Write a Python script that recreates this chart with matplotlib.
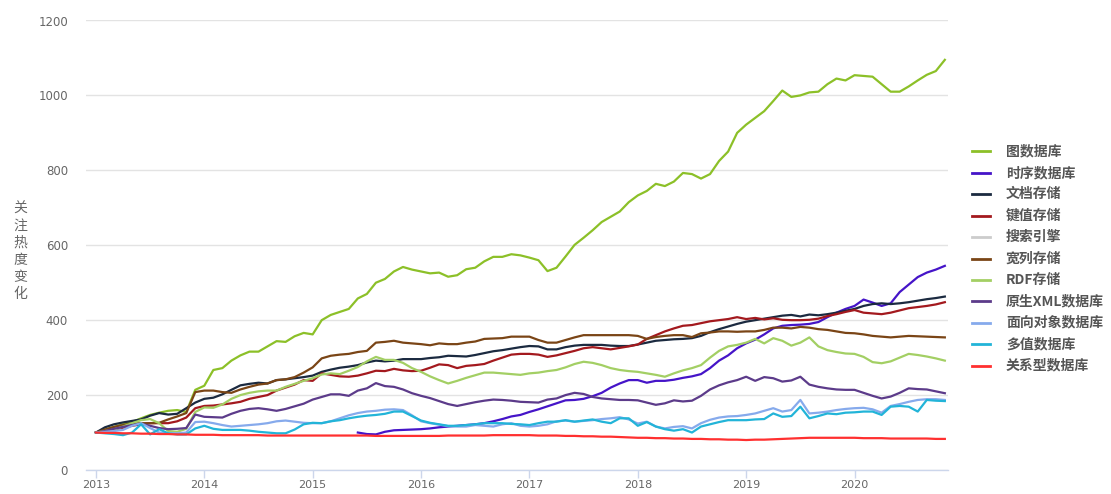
import matplotlib
matplotlib.use("Agg")
import matplotlib.pyplot as plt
from matplotlib.lines import Line2D

plt.rcParams['font.family'] = ['Noto Sans CJK SC', 'DejaVu Sans']

# ---------------- data (monthly, 2013-01 .. 2020-11) ----------------
year_labels = ['2013', '2014', '2015', '2016', '2017', '2018', '2019', '2020']
y_ticks = [0, 200, 400, 600, 800, 1000, 1200]
y_label = '关注热度变化'

graph_db = [100, 108, 115, 122, 128, 138, 147, 153, 158, 160, 155, 214, 225, 267, 272, 292,
            306, 316, 316, 330, 344, 342, 357, 366, 362, 400, 414, 422, 430, 458, 470, 500,
            510, 530, 542, 535, 530, 525, 527, 516, 520, 536, 540, 557, 569, 569, 576, 573,
            567, 560, 531, 540, 570, 601, 620, 640, 662, 676, 690, 715, 733, 745, 764, 758,
            770, 793, 790, 778, 790, 825, 850, 900, 922, 940, 958, 985, 1013, 996, 1000, 1008,
            1010, 1030, 1045, 1040, 1054, 1052, 1050, 1030, 1010, 1010, 1024, 1040, 1055, 1065, 1095]

timeseries_db = [None] * 29 + [
            100, 96, 95, 102, 106, 107, 108, 109, 111, 114, 116, 118, 120, 122, 125, 130,
            136, 143, 147, 155, 162, 170, 178, 186, 187, 190, 197, 206, 220, 231, 240, 240,
            233, 238, 238, 241, 246, 250, 256, 272, 292, 306, 325, 338, 348, 362, 378, 385,
            387, 388, 390, 395, 408, 420, 430, 438, 455, 447, 438, 445, 475, 495, 515, 527,
            535, 545]

document = [100, 114, 122, 127, 131, 135, 145, 152, 148, 150, 165, 180, 190, 193, 202, 214,
            226, 230, 233, 231, 240, 242, 245, 248, 252, 262, 268, 273, 276, 280, 287, 292,
            290, 292, 296, 296, 296, 299, 301, 305, 304, 303, 307, 312, 317, 320, 324, 328,
            331, 330, 322, 322, 328, 332, 334, 334, 334, 332, 331, 331, 335, 340, 345, 347,
            349, 350, 352, 358, 368, 376, 383, 390, 396, 400, 404, 408, 412, 414, 410, 415,
            413, 416, 420, 425, 430, 438, 443, 445, 443, 445, 448, 452, 456, 459, 463]

key_value = [100, 103, 108, 113, 118, 122, 125, 125, 125, 130, 140, 165, 171, 172, 175, 178,
             182, 190, 195, 200, 212, 220, 228, 240, 238, 258, 254, 250, 249, 252, 258, 265,
             264, 270, 266, 264, 265, 273, 282, 280, 272, 278, 280, 283, 292, 300, 308, 310,
             310, 308, 302, 306, 312, 318, 325, 328, 325, 322, 326, 330, 335, 350, 360, 370,
             378, 385, 387, 392, 397, 400, 403, 408, 403, 406, 402, 405, 401, 400, 400, 401,
             404, 411, 416, 422, 427, 420, 418, 416, 420, 426, 432, 435, 438, 442, 448]

wide_column = [100, 108, 115, 120, 124, 125, 125, 126, 135, 143, 152, 208, 212, 212, 208, 206,
               215, 222, 228, 231, 240, 242, 248, 260, 274, 298, 305, 308, 310, 315, 318, 340,
               342, 345, 340, 338, 336, 333, 338, 336, 336, 340, 343, 350, 351, 352, 356, 356,
               356, 347, 340, 340, 347, 354, 360, 360, 360, 360, 360, 360, 358, 350, 355, 358,
               360, 360, 355, 365, 367, 370, 370, 369, 370, 370, 374, 380, 380, 378, 382, 380,
               376, 374, 370, 366, 365, 362, 358, 356, 354, 356, 358, 357, 356, 355, 354]

rdf = [100, 104, 108, 116, 125, 133, 136, 125, 104, 102, 110, 155, 167, 166, 175, 190,
       200, 206, 210, 212, 212, 222, 230, 238, 245, 255, 258, 256, 265, 275, 290, 302,
       294, 294, 286, 272, 262, 250, 240, 231, 238, 246, 253, 260, 260, 258, 256, 254,
       258, 260, 264, 267, 274, 283, 289, 286, 280, 272, 267, 264, 262, 258, 254, 249,
       258, 266, 272, 280, 300, 318, 330, 334, 340, 350, 338, 352, 345, 332, 340, 354,
       330, 320, 315, 311, 310, 302, 288, 285, 290, 300, 310, 307, 303, 298, 292]

native_xml = [100, 104, 110, 115, 120, 123, 118, 112, 109, 110, 112, 148, 142, 141, 140, 150,
              158, 163, 165, 162, 158, 163, 170, 177, 188, 195, 202, 202, 198, 212, 218, 232,
              224, 222, 215, 205, 198, 192, 184, 176, 171, 176, 181, 185, 188, 187, 185, 182,
              181, 180, 188, 191, 200, 206, 203, 195, 191, 189, 187, 187, 186, 180, 174, 178,
              186, 183, 185, 198, 215, 226, 234, 240, 249, 238, 248, 245, 236, 239, 249, 228,
              222, 218, 215, 214, 214, 206, 198, 191, 196, 206, 218, 216, 215, 210, 205]

object_db = [100, 102, 104, 107, 118, 125, 112, 100, 98, 98, 100, 128, 129, 125, 120, 116,
             118, 120, 122, 125, 130, 132, 129, 126, 125, 125, 130, 138, 146, 152, 156, 158,
             161, 162, 160, 146, 130, 125, 121, 117, 116, 116, 120, 118, 116, 122, 125, 118,
             116, 118, 122, 130, 132, 129, 131, 133, 136, 138, 141, 135, 124, 129, 116, 111,
             115, 117, 111, 125, 134, 140, 143, 144, 147, 151, 158, 165, 156, 160, 187, 151,
             153, 156, 160, 163, 165, 166, 162, 153, 171, 176, 182, 187, 189, 189, 187]

multivalue = [100, 98, 96, 93, 100, 122, 95, 109, 98, 95, 95, 111, 118, 110, 107, 107,
              107, 105, 102, 100, 98, 98, 108, 122, 126, 125, 130, 133, 138, 142, 145, 147,
              150, 156, 156, 144, 132, 126, 122, 118, 118, 120, 122, 125, 125, 125, 123, 122,
              120, 125, 129, 129, 133, 129, 132, 135, 129, 125, 138, 138, 118, 128, 116, 109,
              105, 109, 100, 116, 122, 128, 133, 133, 133, 135, 136, 151, 142, 144, 169, 138,
              144, 151, 149, 153, 154, 156, 156, 147, 169, 171, 169, 156, 187, 185, 184]

relational = [100, 99, 99, 98, 98, 97, 97, 96, 96, 95, 95, 94, 94, 94, 93, 93,
              93, 93, 93, 92, 92, 92, 92, 92, 92, 92, 92, 92, 92, 92, 92, 91,
              91, 91, 91, 91, 91, 91, 91, 92, 92, 92, 92, 92, 93, 93, 93, 93,
              93, 92, 92, 92, 91, 91, 90, 90, 89, 89, 88, 87, 86, 86, 85, 85,
              84, 84, 83, 83, 82, 82, 81, 81, 80, 81, 81, 82, 83, 84, 85, 86,
              86, 86, 86, 86, 86, 85, 85, 85, 84, 84, 84, 84, 84, 83, 83]

series_names = ['图数据库', '时序数据库', '文档存储', '键值存储', '搜索引擎', '宽列存储',
                'RDF存储', '原生XML数据库', '面向对象数据库', '多值数据库', '关系型数据库']
series_values = [graph_db, timeseries_db, document, key_value, None, wide_column,
                 rdf, native_xml, object_db, multivalue, relational]
series_colors = ['#8cc028', '#4514c8', '#1b2a40', '#a3191e', '#cccccc', '#7a4516',
                 '#a3cf64', '#5c3b8a', '#86aaec', '#22b4d8', '#ff3030']

# ---------------- figure ----------------
W, H = 1111, 494
fig = plt.figure(figsize=(W / 100, H / 100), dpi=100)
ax = fig.add_axes([86 / W, 24 / H, 862 / W, 449.5 / H])

for name, vals, col in zip(series_names, series_values, series_colors):
    if vals is None:
        continue  # hidden series (legend only)
    xs = [i for i, v in enumerate(vals) if v is not None]
    ys = [v for v in vals if v is not None]
    ax.plot(xs, ys, color=col, lw=1.6, solid_joinstyle='round', zorder=3)

ax.set_xlim(-1.1, 94.35)
ax.set_ylim(0, 1200)
ax.set_xticks([12 * k for k in range(len(year_labels))])
ax.set_xticklabels(year_labels)
ax.set_yticks(y_ticks)
ax.set_yticklabels([str(t) for t in y_ticks])

for s in ['left', 'right', 'top']:
    ax.spines[s].set_visible(False)
ax.spines['bottom'].set_color('#ccd6eb')
ax.spines['bottom'].set_linewidth(1.0)
ax.grid(axis='y', color='#e3e3e3', lw=1.0, zorder=0)
ax.set_axisbelow(True)
ax.tick_params(axis='x', colors='#ccd6eb', length=6, width=1.0, labelcolor='#666666',
               labelsize=8, pad=1.5)
ax.tick_params(axis='y', length=0, labelcolor='#666666', labelsize=8.5, pad=13)
for lab in ax.get_xticklabels() + ax.get_yticklabels():
    lab.set_family('DejaVu Sans')

# vertical stacked y-axis label
for k, ch in enumerate(y_label):
    fig.text(20 / W, (H - 209 - 17 * k) / H, ch, ha='center', va='center',
             fontsize=10, color='#666666')

# legend (manual, right side)
for k, (name, col) in enumerate(zip(series_names, series_colors)):
    yy = (H - 151.5 - 21.4 * k) / H
    fig.add_artist(Line2D([972 / W, 990 / W], [yy, yy], transform=fig.transFigure,
                          color=col, lw=2))
    fig.text(1006 / W, yy, name, ha='left', va='center', fontsize=10,
             color='#555555', fontweight='bold')

fig.savefig('out.png', dpi=100, facecolor='white')
